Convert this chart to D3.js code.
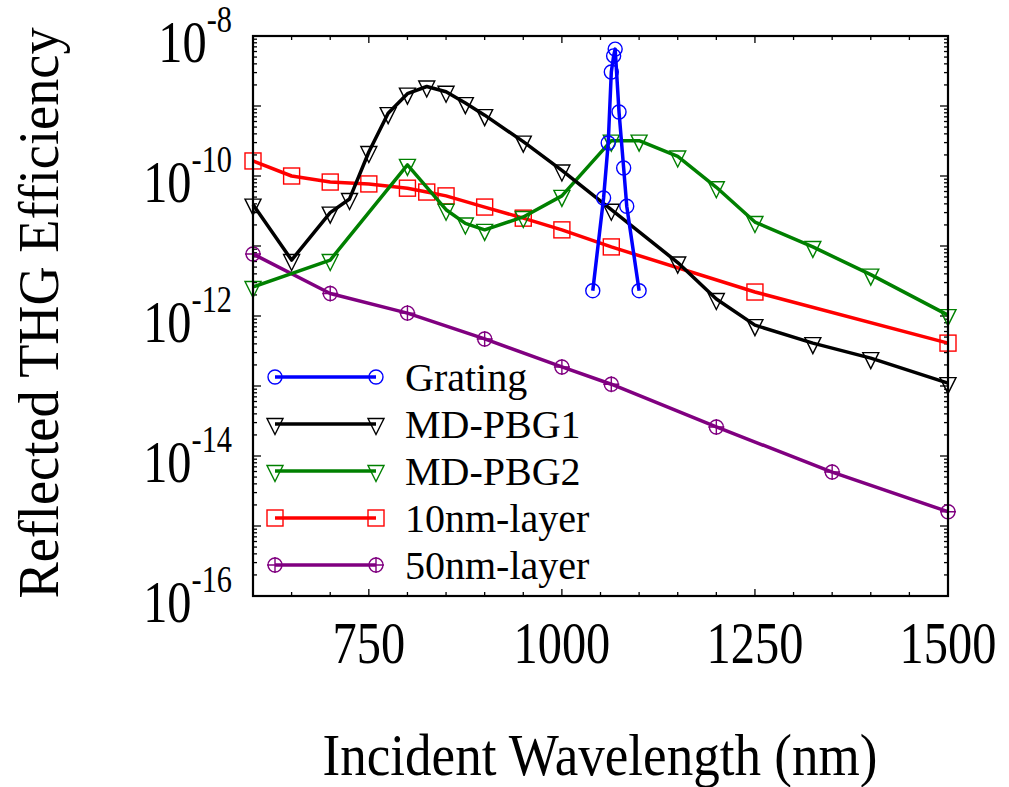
<!DOCTYPE html>
<html>
<head>
<meta charset="utf-8">
<script src="https://cdn.jsdelivr.net/npm/d3@7"></script>
<style>
  body { margin: 0; background: #fff; }
  text { font-family: "Liberation Serif", "DejaVu Serif", serif; fill: #000; }
</style>
</head>
<body>
<div id="chart"></div>
<script>
// data
var gratingX = [1040, 1054, 1060, 1064, 1067, 1069, 1074, 1080, 1084, 1100];
var gratingY = [2.3e-12, 4.85e-11, 2.96e-10, 3.06e-9, 5.2e-9, 6.5e-9, 8.2e-10, 1.3e-10, 3.7e-11, 2.3e-12];

var pbg1X = [600, 650, 700, 725, 750, 775, 800, 825, 850, 875, 900, 950, 1000, 1064, 1150, 1200, 1250, 1325, 1400, 1500];
var pbg1Y = [3.9e-11, 6.3e-12, 3.0e-11, 4.7e-11, 2.2e-10, 7.9e-10, 1.5e-9, 1.9e-9, 1.6e-9, 1.1e-9, 7.4e-10, 3.1e-10, 1.2e-10, 3.3e-11, 5.8e-12, 1.75e-12, 7.4e-13, 4.1e-13, 2.5e-13, 1.1e-13];

var pbg2X = [600, 700, 800, 850, 875, 900, 950, 1000, 1064, 1100, 1150, 1200, 1250, 1325, 1400, 1500];
var pbg2Y = [2.6e-12, 6.3e-12, 1.44e-10, 3.3e-11, 2.1e-11, 1.7e-11, 2.6e-11, 5.2e-11, 3.2e-10, 3.2e-10, 1.9e-10, 6.9e-11, 2.2e-11, 9.7e-12, 3.9e-12, 1.03e-12];

var layer10X = [600, 650, 700, 750, 800, 825, 850, 900, 950, 1000, 1064, 1250, 1500];
var layer10Y = [1.64e-10, 1.0e-10, 8.2e-11, 7.7e-11, 6.7e-11, 5.9e-11, 5.2e-11, 3.6e-11, 2.5e-11, 1.7e-11, 9.7e-12, 2.2e-12, 4.1e-13];

var layer50X = [600, 700, 800, 900, 1000, 1064, 1200, 1350, 1500];
var layer50Y = [7.7e-12, 2.1e-12, 1.1e-12, 4.7e-13, 1.87e-13, 1.06e-13, 2.6e-14, 5.9e-15, 1.6e-15];

var seriesNames = ["Grating", "MD-PBG1", "MD-PBG2", "10nm-layer", "50nm-layer"];
var seriesColors = ["#0000ff", "#000000", "#008000", "#ff0000", "#800080"];
var seriesMarkers = ["circle", "triangle", "triangle", "square", "circleplus"];

var xTicks = [750, 1000, 1250, 1500];
var yTickExps = [-8, -10, -12, -14, -16];

var margin = { top: 36, right: 61, bottom: 191, left: 253 },
    width = 1009 - margin.left - margin.right,
    height = 787 - margin.top - margin.bottom;

var svg = d3.select("#chart")
    .append("svg")
    .attr("width", 1009)
    .attr("height", 787);

var g = svg.append("g")
    .attr("transform", "translate(" + margin.left + "," + margin.top + ")");

var x = d3.scaleLinear().domain([600, 1500]).range([0, width]);
var y = d3.scaleLog().domain([1e-16, 1e-8]).range([height, 0]);

// squash text horizontally like the original figure
function condense(sel, f) {
    sel.each(function () {
        var len = this.getComputedTextLength();
        d3.select(this).attr("textLength", len * f).attr("lengthAdjust", "spacingAndGlyphs");
    });
}

// ticks, all pointing inward on all four sides
var xt = d3.range(600, 1501, 50);
xt.forEach(function (v) {
    var len = v % 250 === 0 ? 7 : 4;
    g.append("line").attr("x1", x(v)).attr("x2", x(v)).attr("y1", height).attr("y2", height - len)
        .attr("stroke", "#000").attr("stroke-width", 1.3);
    g.append("line").attr("x1", x(v)).attr("x2", x(v)).attr("y1", 0).attr("y2", len)
        .attr("stroke", "#000").attr("stroke-width", 1.3);
});
y.ticks().forEach(function (v) {
    var e = Math.log10(v);
    var len = Math.abs(e - Math.round(e)) < 1e-6 ? 8 : 4;
    g.append("line").attr("x1", 0).attr("x2", len).attr("y1", y(v)).attr("y2", y(v))
        .attr("stroke", "#000").attr("stroke-width", 1.3);
    g.append("line").attr("x1", width).attr("x2", width - len).attr("y1", y(v)).attr("y2", y(v))
        .attr("stroke", "#000").attr("stroke-width", 1.3);
});

// tick labels
var xl = g.selectAll(".xlabel")
    .data(xTicks)
    .enter().append("text")
    .attr("class", "xlabel")
    .attr("x", d => x(d))
    .attr("y", height + 67)
    .attr("text-anchor", "middle")
    .style("font-size", "59px")
    .text(d => d);
condense(xl, 0.82);

var yl = g.selectAll(".ylabel")
    .data(yTickExps)
    .enter().append("text")
    .attr("class", "ylabel")
    .attr("x", -21)
    .attr("y", d => y(Math.pow(10, d)) + 26)
    .attr("text-anchor", "end")
    .style("font-size", "59px");
yl.append("tspan").text("10");
yl.append("tspan").attr("dy", -30).style("font-size", "37px").text(d => "" + d);
condense(yl, 0.82);

// axis titles
var xtitle = svg.append("text")
    .attr("x", 600)
    .attr("y", 775)
    .attr("text-anchor", "middle")
    .style("font-size", "60px")
    .text("Incident Wavelength (nm)");
condense(xtitle, 0.885);

var ytitle = svg.append("text")
    .attr("transform", "translate(58,313) rotate(-90)")
    .attr("text-anchor", "middle")
    .style("font-size", "56px")
    .text("Reflected THG Efficiency");
condense(ytitle, 0.97);

// markers
function drawMarker(sel, type, color) {
    if (type === "circle" || type === "circleplus") {
        sel.append("circle").attr("r", 7).attr("fill", "none").attr("stroke", color).attr("stroke-width", 1.4);
        if (type === "circleplus") {
            sel.append("path").attr("d", "M-8,0H8M0,-8V8").attr("stroke", color).attr("stroke-width", 1.4);
        }
    } else if (type === "triangle") {
        sel.append("path").attr("d", "M-8,-5.5L8,-5.5L0,10.5Z").attr("fill", "none")
            .attr("stroke", color).attr("stroke-width", 1.4);
    } else if (type === "square") {
        sel.append("rect").attr("x", -8).attr("y", -8).attr("width", 16).attr("height", 16)
            .attr("fill", "none").attr("stroke", color).attr("stroke-width", 1.4);
    }
}

var allX = [gratingX, pbg1X, pbg2X, layer10X, layer50X];
var allY = [gratingY, pbg1Y, pbg2Y, layer10Y, layer50Y];

var line = d3.line().x(d => x(d[0])).y(d => y(d[1]));

var plot = g.append("g");
// draw in back-to-front order similar to the original
[4, 3, 2, 1, 0].forEach(function (i) {
    var pts = allX[i].map((v, j) => [v, allY[i][j]]);
    var sg = plot.append("g");
    sg.append("path")
        .datum(pts)
        .attr("d", line)
        .attr("fill", "none")
        .attr("stroke", seriesColors[i])
        .attr("stroke-width", 3.5)
        .attr("stroke-linejoin", "round");
    sg.selectAll(".m")
        .data(pts)
        .enter().append("g")
        .attr("transform", d => "translate(" + x(d[0]) + "," + y(d[1]) + ")")
        .each(function () { drawMarker(d3.select(this), seriesMarkers[i], seriesColors[i]); });
});

// legend
var legend = g.append("g").attr("transform", "translate(0," + (377 - margin.top) + ")");
seriesNames.forEach(function (name, i) {
    var row = legend.append("g").attr("transform", "translate(0," + (i * 47) + ")");
    row.append("line").attr("x1", 22).attr("x2", 123).attr("y1", 0).attr("y2", 0)
        .attr("stroke", seriesColors[i]).attr("stroke-width", 3.5);
    drawMarker(row.append("g").attr("transform", "translate(22,0)"), seriesMarkers[i], seriesColors[i]);
    drawMarker(row.append("g").attr("transform", "translate(123,0)"), seriesMarkers[i], seriesColors[i]);
    row.append("text").attr("x", 152).attr("y", 14).style("font-size", "40px").text(name);
});

// frame
g.append("rect")
    .attr("width", width)
    .attr("height", height)
    .attr("fill", "none")
    .attr("stroke", "#000")
    .attr("stroke-width", 2.2);
</script>
</body>
</html>
